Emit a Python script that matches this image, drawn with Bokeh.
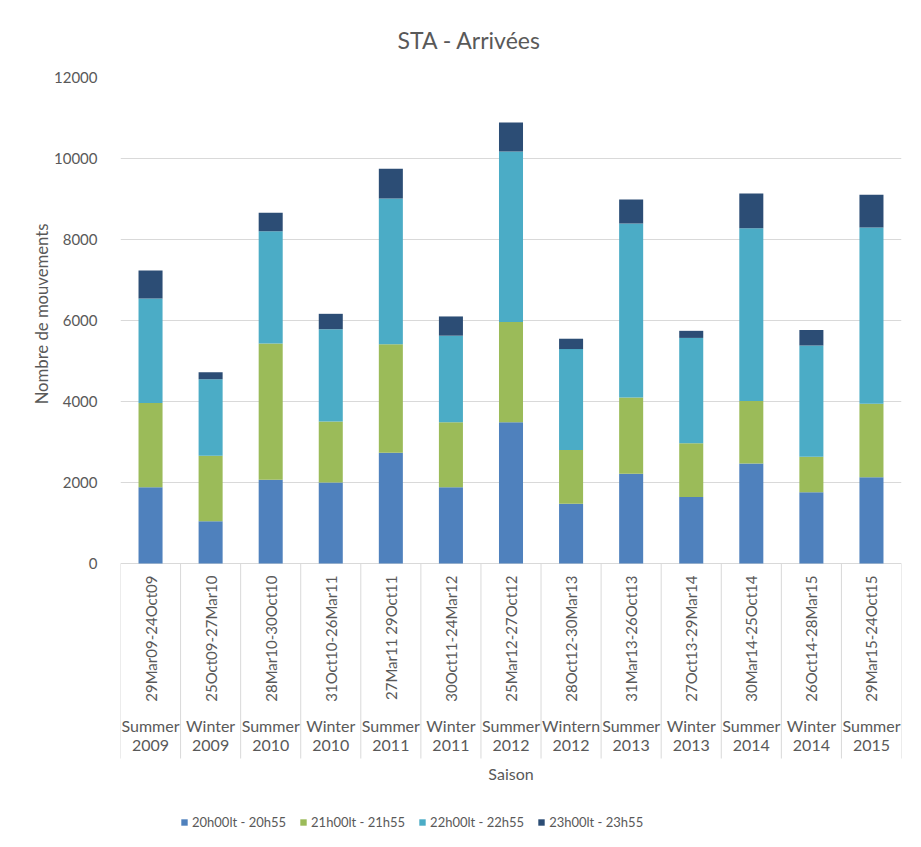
import math
from bokeh.plotting import figure
from bokeh.models import (Range1d, FixedTicker, ColumnDataSource, Legend, LegendItem, Title)
from bokeh.core.properties import value
from bokeh.embed import file_html
from bokeh.resources import INLINE

# ---------------- data ----------------
seasons = ["Summer", "Winter", "Summer", "Winter", "Summer", "Winter", "Summer",
           "Wintern", "Summer", "Winter", "Summer", "Winter", "Summer"]
years = ["2009", "2009", "2010", "2010", "2011", "2011", "2012",
         "2012", "2013", "2013", "2014", "2014", "2015"]
periods = ["29Mar09-24Oct09", "25Oct09-27Mar10", "28Mar10-30Oct10", "31Oct10-26Mar11",
           "27Mar11 29Oct11", "30Oct11-24Mar12", "25Mar12-27Oct12", "28Oct12-30Mar13",
           "31Mar13-26Oct13", "27Oct13-29Mar14", "30Mar14-25Oct14", "26Oct14-28Mar15",
           "29Mar15-24Oct15"]
s20 = [1880, 1045, 2065, 2000, 2735, 1880, 3490, 1475, 2215, 1640, 2470, 1760, 2130]
s21 = [2080, 1615, 3365, 1505, 2680, 1610, 2470, 1325, 1885, 1330, 1540, 875, 1815]
s22 = [2585, 1890, 2775, 2280, 3595, 2135, 4215, 2495, 4295, 2600, 4270, 2750, 4350]
s23 = [690, 175, 455, 380, 735, 475, 715, 255, 595, 175, 855, 380, 810]
series_names = ["20h00lt - 20h55", "21h00lt - 21h55", "22h00lt - 22h55", "23h00lt - 23h55"]
y_ticks = [0, 2000, 4000, 6000, 8000, 10000, 12000]

colors = ["#4F81BD", "#9BBB59", "#4BACC6", "#2C4D75"]
FONT = "Lato"
GREY = "#595959"
LINE = "#d9d9d9"

n = len(periods)
xc = [i + 0.5 for i in range(n)]
src = ColumnDataSource(dict(x=xc, s20=s20, s21=s21, s22=s22, s23=s23,
                            season=seasons, year=years, period=periods))

p = figure(width=905, height=831,
           x_range=Range1d(0, n), y_range=Range1d(-6617, 12000),
           output_backend="svg", toolbar_location=None, x_axis_location=None,
           min_border_left=120, min_border_right=4, min_border_top=77, min_border_bottom=0)
p.outline_line_color = None
p.background_fill_color = "white"
p.border_fill_color = "white"

# title
p.title.text = "STA - Arrivées"
p.title.text_font = FONT
p.title.text_font_size = "23px"
p.title.text_font_style = "normal"
p.title.text_color = GREY
p.title.align = "left"
p.title.offset = 277
p.title.standoff = 47

# y axis
yax = p.yaxis[0]
yax.ticker = FixedTicker(ticks=y_ticks)
yax.axis_line_color = None
yax.major_tick_line_color = None
yax.minor_tick_line_color = None
yax.major_label_text_font = FONT
yax.major_label_text_font_size = "15px"
yax.major_label_text_color = GREY
yax.major_label_standoff = 17

# y axis title
ytitle = Title(text="Nombre de mouvements", align="right", offset=146,
               vertical_align="bottom", standoff=0,
               text_font=FONT, text_font_size="16.7px", text_font_style="normal",
               text_color=GREY)
p.add_layout(ytitle, "left")

p.xgrid.visible = False
p.ygrid.ticker = FixedTicker(ticks=y_ticks)
p.ygrid.grid_line_color = LINE
p.ygrid.grid_line_width = 1

# bars
rs = p.vbar_stack(["s20", "s21", "s22", "s23"], x="x", width=0.4, color=colors,
                  line_color=None, source=src)

# category separators
bounds = list(range(n + 1))
p.segment(x0=bounds, y0=[0] * len(bounds), x1=bounds, y1=[-4815] * len(bounds),
          line_color=LINE, line_width=1)

# category labels
p.text(x="x", y=-296, text="period", source=src, angle=math.pi / 2,
       text_align="right", text_baseline="middle",
       text_font=value(FONT), text_font_size="15px", text_color=GREY)
p.text(x="x", y=-4000, text="season", source=src,
       text_align="center", text_baseline="middle",
       text_font=value(FONT), text_font_size="16px", text_color=GREY)
p.text(x="x", y=-4494, text="year", source=src,
       text_align="center", text_baseline="middle",
       text_font=value(FONT), text_font_size="16px", text_color=GREY)
p.text(x=[n / 2], y=[-5185], text=["Saison"],
       text_align="center", text_baseline="middle",
       text_font=value(FONT), text_font_size="16px", text_color=GREY)

# legend
items = [LegendItem(label=nm, renderers=[r]) for nm, r in zip(series_names, rs)]
leg = Legend(items=items, orientation="horizontal", location=(60, 1),
             glyph_width=8, glyph_height=8, label_height=16, spacing=13, padding=0, margin=0,
             label_standoff=4, border_line_color=None, background_fill_alpha=0,
             label_text_font=FONT, label_text_font_size="13px", label_text_color=GREY)
p.add_layout(leg)

open("out.html", "w").write(file_html(p, INLINE))
